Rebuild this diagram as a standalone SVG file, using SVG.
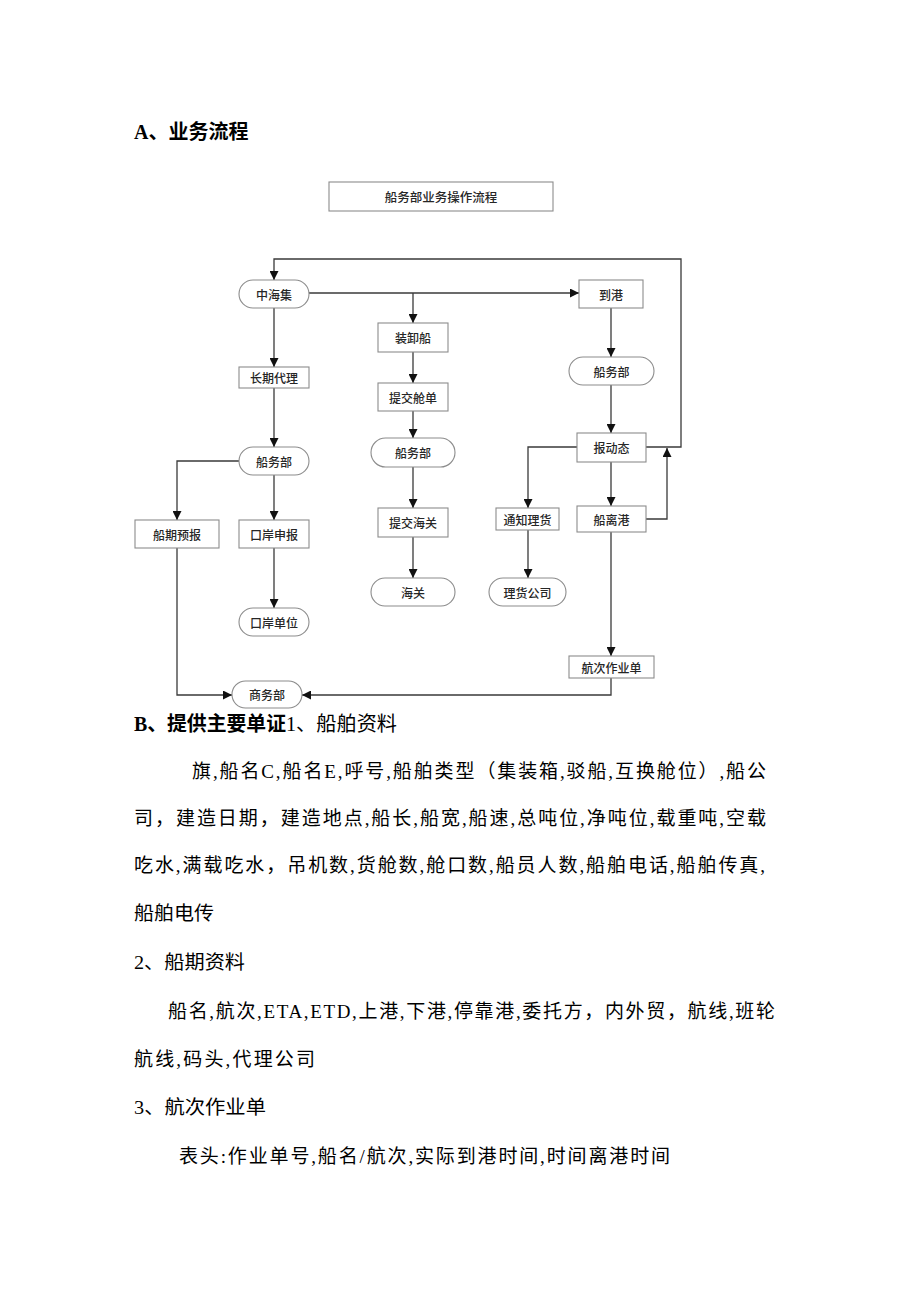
<svg xmlns="http://www.w3.org/2000/svg" width="920" height="1301" viewBox="0 0 920 1301">
<style>
.bg{fill:#ffffff}
.box{fill:#ffffff;stroke:#8c8c8c;stroke-width:1.1}
.lbl{font-family:"Noto Sans CJK SC","Liberation Sans",sans-serif;font-size:12px;font-weight:500;fill:#262626;text-anchor:middle;dominant-baseline:central}
.con{fill:none;stroke:#3a3a3a;stroke-width:1.3}
.h{font-family:"Liberation Serif","Noto Sans CJK SC",serif;font-size:20px;font-weight:bold;fill:#000000}
.body{font-family:"Liberation Serif","Noto Sans CJK SC",serif;font-size:19px;fill:#000000}
</style>
<defs>
<marker id="arr" viewBox="0 0 10 10" refX="10" refY="5" markerWidth="9" markerHeight="9" markerUnits="userSpaceOnUse" orient="auto">
<path d="M0,0 L10,5 L0,10 z" fill="#111111"/>
</marker>
</defs>
<rect class="bg" x="0" y="0" width="920" height="1301"/>

<text class="h" x="134" y="139">A、业务流程</text>

<g id="title"><rect class="box" x="329" y="182" width="224" height="29"/><text class="lbl" x="441" y="196.5" style="font-size:12.5px">船务部业务操作流程</text></g>

<g id="connectors">
<polyline class="con" points="646,447 681,447 681,259 274,259 274,280" marker-end="url(#arr)"/>
<polyline class="con" points="309,293 579,293" marker-end="url(#arr)"/>
<polyline class="con" points="413,293 413,323" marker-end="url(#arr)"/>
<polyline class="con" points="274,308 274,367" marker-end="url(#arr)"/>
<polyline class="con" points="274,388 274,447" marker-end="url(#arr)"/>
<polyline class="con" points="239,461 177,461 177,520" marker-end="url(#arr)"/>
<polyline class="con" points="274,475 274,520" marker-end="url(#arr)"/>
<polyline class="con" points="274,548 274,608" marker-end="url(#arr)"/>
<polyline class="con" points="177,548 177,695 232,695" marker-end="url(#arr)"/>
<polyline class="con" points="413,352 413,383" marker-end="url(#arr)"/>
<polyline class="con" points="413,411 413,438" marker-end="url(#arr)"/>
<polyline class="con" points="413,467 413,508" marker-end="url(#arr)"/>
<polyline class="con" points="413,537 413,578" marker-end="url(#arr)"/>
<polyline class="con" points="611,308 611,357" marker-end="url(#arr)"/>
<polyline class="con" points="611,385 611,433" marker-end="url(#arr)"/>
<polyline class="con" points="577,447 528,447 528,508" marker-end="url(#arr)"/>
<polyline class="con" points="528,530 528,578" marker-end="url(#arr)"/>
<polyline class="con" points="611,462 611,506" marker-end="url(#arr)"/>
<polyline class="con" points="646,519 667,519 667,448" marker-end="url(#arr)"/>
<polyline class="con" points="611,532 611,656" marker-end="url(#arr)"/>
<polyline class="con" points="611,678 611,695 302,695" marker-end="url(#arr)"/>
</g>

<g id="zhonghaiji"><rect class="box" x="239" y="280" width="70" height="28" rx="14"/><text class="lbl" x="274" y="294">中海集</text></g>
<g id="daogang"><rect class="box" x="579" y="280" width="64" height="28"/><text class="lbl" x="611" y="294">到港</text></g>
<g id="changqidaili"><rect class="box" x="239" y="367" width="70" height="21"/><text class="lbl" x="274" y="377.5">长期代理</text></g>
<g id="zhuangxiechuan"><rect class="box" x="378" y="323" width="70" height="29"/><text class="lbl" x="413" y="337.5">装卸船</text></g>
<g id="tijiaocangdan"><rect class="box" x="378" y="383" width="70" height="28"/><text class="lbl" x="413" y="397">提交舱单</text></g>
<g id="chuanwubu_mid"><rect class="box" x="371" y="438" width="84" height="29" rx="14.5"/><text class="lbl" x="413" y="452.5">船务部</text></g>
<g id="tijiaohaiguan"><rect class="box" x="378" y="508" width="70" height="29"/><text class="lbl" x="413" y="522.5">提交海关</text></g>
<g id="haiguan"><rect class="box" x="371" y="578" width="84" height="28" rx="14"/><text class="lbl" x="413" y="592">海关</text></g>
<g id="chuanwubu_right"><rect class="box" x="569" y="357" width="85" height="28" rx="14"/><text class="lbl" x="611.5" y="371">船务部</text></g>
<g id="baodongtai"><rect class="box" x="577" y="433" width="69" height="29"/><text class="lbl" x="611.5" y="447.5">报动态</text></g>
<g id="tongzhilihuo"><rect class="box" x="496" y="508" width="63" height="22"/><text class="lbl" x="527.5" y="519">通知理货</text></g>
<g id="lihuogongsi"><rect class="box" x="489" y="578" width="77" height="28" rx="14"/><text class="lbl" x="527.5" y="592">理货公司</text></g>
<g id="chuanligang"><rect class="box" x="577" y="506" width="69" height="26"/><text class="lbl" x="611.5" y="519">船离港</text></g>
<g id="hangcizuoyedan"><rect class="box" x="569" y="656" width="85" height="22"/><text class="lbl" x="611.5" y="667">航次作业单</text></g>
<g id="chuanwubu_left"><rect class="box" x="239" y="447" width="70" height="28" rx="14"/><text class="lbl" x="274" y="461">船务部</text></g>
<g id="chuanqiyubao"><rect class="box" x="135" y="520" width="84" height="28"/><text class="lbl" x="177" y="534">船期预报</text></g>
<g id="kouanshenbao"><rect class="box" x="239" y="520" width="70" height="28"/><text class="lbl" x="274" y="534">口岸申报</text></g>
<g id="kouandanwei"><rect class="box" x="239" y="608" width="70" height="28" rx="14"/><text class="lbl" x="274" y="622">口岸单位</text></g>
<g id="shangwubu"><rect class="box" x="232" y="681" width="70" height="27" rx="13.5"/><text class="lbl" x="267" y="694.5">商务部</text></g>

<text class="h" x="134" y="731" textLength="152" lengthAdjust="spacingAndGlyphs">B、提供主要单证</text>
<text class="body" x="286" y="731" style="font-size:20px" textLength="111" lengthAdjust="spacingAndGlyphs">1、船舶资料</text>
<text class="body" x="192" y="778" textLength="574" lengthAdjust="spacing">旗,船名C,船名E,呼号,船舶类型（集装箱,驳船,互换舱位）,船公</text>
<text class="body" x="134" y="825" textLength="632" lengthAdjust="spacing">司，建造日期，建造地点,船长,船宽,船速,总吨位,净吨位,载重吨,空载</text>
<text class="body" x="134" y="872" textLength="631" lengthAdjust="spacing">吃水,满载吃水，吊机数,货舱数,舱口数,船员人数,船舶电话,船舶传真,</text>
<text class="body" x="134" y="920" textLength="80" lengthAdjust="spacingAndGlyphs">船舶电传</text>
<text class="body" x="134" y="969" textLength="111" lengthAdjust="spacingAndGlyphs">2、船期资料</text>
<text class="body" x="168" y="1018" textLength="607" lengthAdjust="spacing">船名,航次,ETA,ETD,上港,下港,停靠港,委托方，内外贸，航线,班轮</text>
<text class="body" x="134" y="1066" textLength="181" lengthAdjust="spacing">航线,码头,代理公司</text>
<text class="body" x="134" y="1114" textLength="132" lengthAdjust="spacingAndGlyphs">3、航次作业单</text>
<text class="body" x="179" y="1163" textLength="491" lengthAdjust="spacing">表头:作业单号,船名/航次,实际到港时间,时间离港时间</text>
</svg>
